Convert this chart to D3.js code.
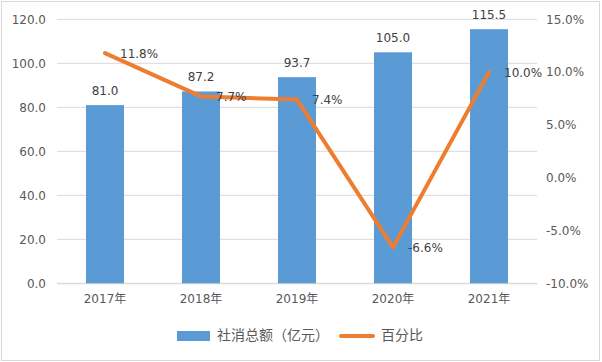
<!DOCTYPE html>
<html><head><meta charset="utf-8">
<script src="https://cdn.jsdelivr.net/npm/d3@7"></script>
<style>body{margin:0;background:#fff}svg{display:block}</style>
</head><body><svg id="c" width="602" height="362"></svg>
<script>
const categories = ["2017年","2018年","2019年","2020年","2021年"];
const totals = [81.0, 87.2, 93.7, 105.0, 115.5];
const percents = [11.8, 7.7, 7.4, -6.6, 10.0];
const leftTicks = [0,20,40,60,80,100,120];
const rightTicks = [-10,-5,0,5,10,15];
const seriesNames = ["社消总额（亿元）","百分比"];

const svg = d3.select("#c");
const font = "'DejaVu Sans', 'Noto Sans CJK SC', sans-serif";
const txt = "#595959";
svg.append("rect").attr("x",1.5).attr("y",1.5).attr("width",598).attr("height",359)
  .attr("fill","#fff").attr("stroke","#d9d9d9");

const m = {l:57, r:537, t:19.3, b:283.3};
const x = d3.scaleBand().domain(categories).range([m.l,m.r]);
const y = d3.scaleLinear().domain([0,120]).range([m.b,m.t]);
const y2 = d3.scaleLinear().domain([-10,15]).range([m.b,m.t]);

// gridlines
svg.append("g").selectAll("line").data(leftTicks).join("line")
  .attr("x1",m.l).attr("x2",m.r).attr("y1",d=>y(d)).attr("y2",d=>y(d))
  .attr("stroke","#d9d9d9").attr("stroke-width",1);

// left axis
const la = svg.append("g").attr("transform",`translate(${m.l},0)`)
  .call(d3.axisLeft(y).tickValues(leftTicks).tickFormat(d=>d.toFixed(1)).tickSize(0).tickPadding(11));
la.select(".domain").remove();
la.selectAll("text").attr("font-family",font).attr("font-size",12).attr("fill",txt);

// right axis
const ra = svg.append("g").attr("transform",`translate(${m.r},0)`)
  .call(d3.axisRight(y2).tickValues(rightTicks).tickFormat(d=>d.toFixed(1)+"%").tickSize(0).tickPadding(9));
ra.select(".domain").remove();
ra.selectAll("text").attr("font-family",font).attr("font-size",12).attr("fill",txt);

// bottom axis
const ba = svg.append("g").attr("transform",`translate(0,${m.b})`)
  .call(d3.axisBottom(x).tickSize(0).tickPadding(11));
ba.select(".domain").attr("stroke","#d9d9d9");
ba.selectAll("text").attr("font-family",font).attr("font-size",12).attr("fill",txt);

// bars
const bw = 38;
svg.append("g").selectAll("rect").data(totals).join("rect")
  .attr("x",(d,i)=>x(categories[i])+x.bandwidth()/2-bw/2)
  .attr("width",bw)
  .attr("y",d=>y(d)).attr("height",d=>y(0)-y(d))
  .attr("fill","#5b9bd5");

svg.append("g").selectAll("text").data(totals).join("text")
  .attr("x",(d,i)=>x(categories[i])+x.bandwidth()/2)
  .attr("y",d=>y(d)-10)
  .attr("text-anchor","middle").attr("font-family",font).attr("font-size",12).attr("fill","#404040")
  .text(d=>d.toFixed(1));

// line
const line = d3.line().x((d,i)=>x(categories[i])+x.bandwidth()/2).y(d=>y2(d));
svg.append("path").datum(percents).attr("d",line)
  .attr("fill","none").attr("stroke","#ed7d31").attr("stroke-width",4).attr("stroke-linejoin","round").attr("stroke-linecap","round");

svg.append("g").selectAll("text").data(percents).join("text")
  .attr("x",(d,i)=>x(categories[i])+x.bandwidth()/2+15)
  .attr("y",d=>y2(d)+1)
  .attr("dominant-baseline","middle")
  .attr("font-family",font).attr("font-size",12).attr("fill","#404040")
  .text(d=>d.toFixed(1)+"%");

// legend
const lg = svg.append("g");
lg.append("rect").attr("x",177).attr("y",331).attr("width",33).attr("height",10).attr("fill","#5b9bd5");
lg.append("text").attr("x",217).attr("y",336).attr("dominant-baseline","middle")
  .attr("font-family",font).attr("font-size",14).attr("fill",txt).text(seriesNames[0]);
lg.append("line").attr("x1",341).attr("x2",373).attr("y1",336).attr("y2",336)
  .attr("stroke","#ed7d31").attr("stroke-width",4).attr("stroke-linecap","round");
lg.append("text").attr("x",381).attr("y",336).attr("dominant-baseline","middle")
  .attr("font-family",font).attr("font-size",14).attr("fill",txt).text(seriesNames[1]);
</script></body></html>
